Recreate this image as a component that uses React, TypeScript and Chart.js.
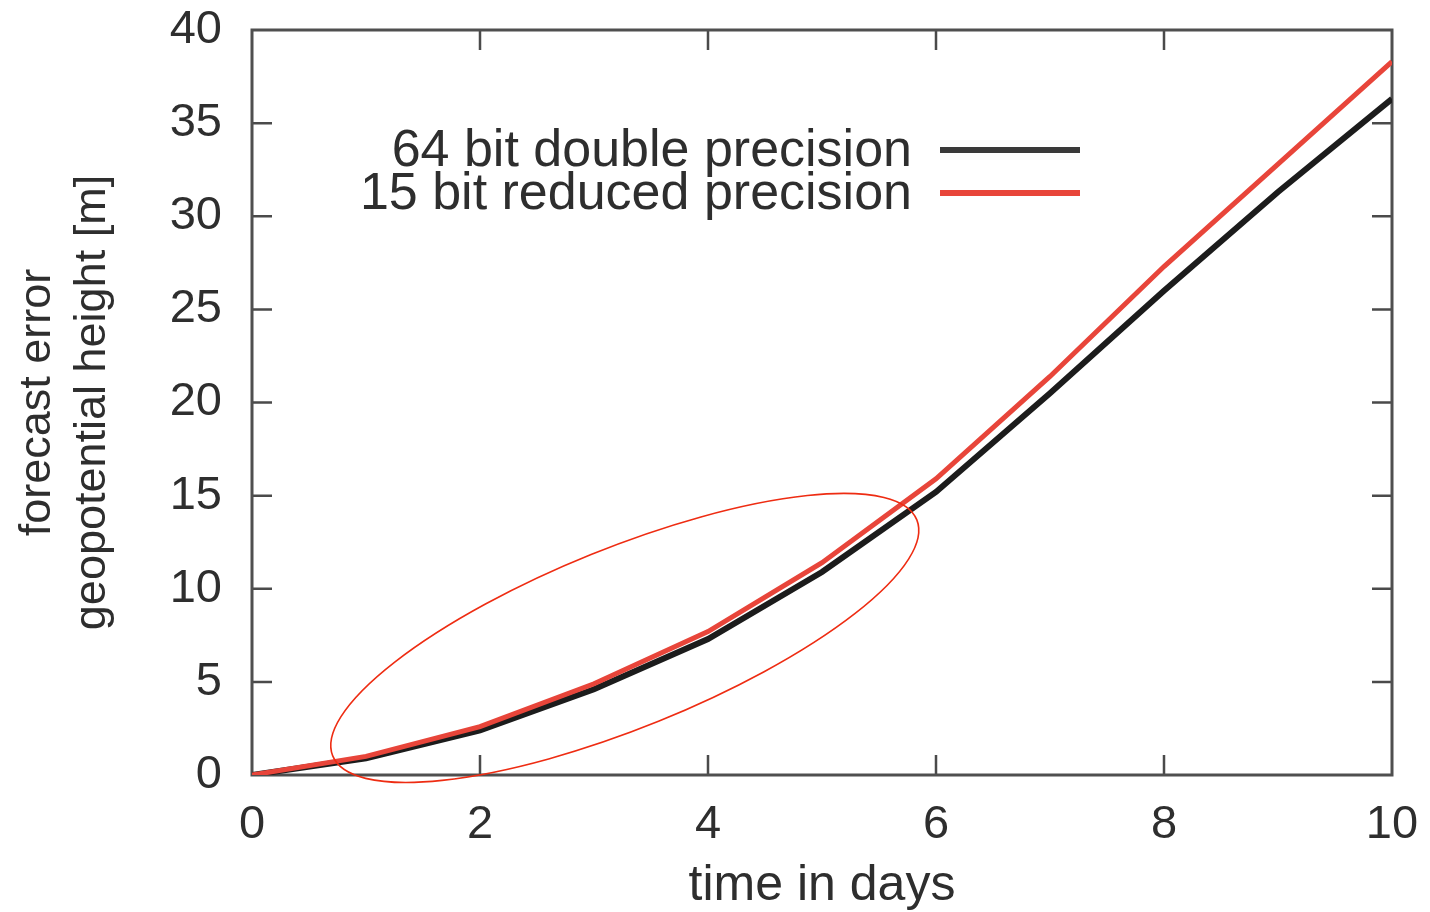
import React, { useEffect, useRef } from "react";
import { Chart, registerables } from "chart.js";

Chart.register(...registerables);

// ---- data ----
const days = [0, 1, 2, 3, 4, 5, 6, 7, 8, 9, 10];
const doublePrecision = [0, 0.9, 2.4, 4.6, 7.3, 10.9, 15.2, 20.5, 26.0, 31.3, 36.3];
const reducedPrecision = [0, 1.0, 2.6, 4.9, 7.7, 11.4, 15.9, 21.4, 27.3, 32.8, 38.3];
const seriesLabels = ["64 bit double precision", "15 bit reduced precision"];
const seriesColors = ["#1c1c1c", "#e8453a"];
const legendColors = ["#3a3a3a", "#e8453a"];
const xRange = [0, 10];
const yRange = [0, 40];
const xStep = 2;
const yStep = 5;
const xTitle = "time in days";
const yTitle = ["forecast error", "geopotential height [m]"];
// highlight ellipse: centre in data units
const highlightCenter = { x: 3.27, y: 7.36 };

const FONT = "'Liberation Sans', Arial, Helvetica, sans-serif";

const framePlugin = {
  id: "frame",
  beforeDatasetsDraw(chart: any) {
    const { ctx, chartArea, scales } = chart;
    const { left, right, top, bottom } = chartArea;
    const L = 20;
    ctx.save();
    ctx.strokeStyle = "#4a4a4a";
    ctx.lineWidth = 2.5;
    ctx.beginPath();
    scales.x.ticks.forEach((t: any) => {
      const px = scales.x.getPixelForValue(t.value);
      if (px <= left + 1 || px >= right - 1) return;
      ctx.moveTo(px, bottom);
      ctx.lineTo(px, bottom - L);
      ctx.moveTo(px, top);
      ctx.lineTo(px, top + L);
    });
    scales.y.ticks.forEach((t: any) => {
      const py = scales.y.getPixelForValue(t.value);
      if (py <= top + 1 || py >= bottom - 1) return;
      ctx.moveTo(left, py);
      ctx.lineTo(left + L, py);
      ctx.moveTo(right, py);
      ctx.lineTo(right - L, py);
    });
    ctx.stroke();
    ctx.lineWidth = 3;
    ctx.strokeStyle = "#4f4f4f";
    ctx.strokeRect(left, top, right - left, bottom - top);
    ctx.restore();
  },
};

const overlayPlugin = {
  id: "overlay",
  afterDatasetsDraw(chart: any) {
    const { ctx, scales } = chart;
    ctx.save();
    // legend (text right-aligned, sample line to the right)
    ctx.font = `52px ${FONT}`;
    ctx.textAlign = "right";
    ctx.textBaseline = "middle";
    const textRight = 912;
    const rows = [150, 193];
    chart.data.datasets.forEach((ds: any, i: number) => {
      ctx.fillStyle = "#2e2e2e";
      ctx.fillText(ds.label, textRight, rows[i] + 2);
      ctx.strokeStyle = legendColors[i];
      ctx.lineWidth = 6;
      ctx.beginPath();
      ctx.moveTo(940, rows[i]);
      ctx.lineTo(1080, rows[i]);
      ctx.stroke();
    });
    // highlight ellipse
    const cx = scales.x.getPixelForValue(highlightCenter.x);
    const cy = scales.y.getPixelForValue(highlightCenter.y);
    ctx.strokeStyle = "#ee2c12";
    ctx.lineWidth = 1.6;
    ctx.beginPath();
    ctx.ellipse(cx, cy, 315, 90, (-22 * Math.PI) / 180, 0, Math.PI * 2);
    ctx.stroke();
    ctx.restore();
  },
};

export default function App() {
  const canvasRef = useRef<HTMLCanvasElement | null>(null);

  useEffect(() => {
    if (!canvasRef.current) return;
    const tickFont = { family: FONT, size: 47 };
    const chart = new Chart(canvasRef.current, {
      type: "line",
      data: {
        labels: days,
        datasets: [
          {
            label: seriesLabels[0],
            data: days.map((d, i) => ({ x: d, y: doublePrecision[i] })),
            borderColor: seriesColors[0],
            borderWidth: 6,
            pointRadius: 0,
            tension: 0,
            order: 2,
          },
          {
            label: seriesLabels[1],
            data: days.map((d, i) => ({ x: d, y: reducedPrecision[i] })),
            borderColor: seriesColors[1],
            borderWidth: 5,
            pointRadius: 0,
            tension: 0,
            order: 1,
          },
        ],
      },
      options: {
        animation: false,
        responsive: true,
        maintainAspectRatio: false,
        layout: { padding: { left: 0, right: 38, top: 30, bottom: 0 } },
        plugins: { legend: { display: false }, tooltip: { enabled: false } },
        scales: {
          x: {
            type: "linear",
            min: xRange[0],
            max: xRange[1],
            grid: { display: false, drawTicks: false },
            border: { display: false },
            ticks: { stepSize: xStep, font: tickFont, color: "#2e2e2e", padding: 22 },
            title: {
              display: true,
              text: xTitle,
              font: { family: FONT, size: 50, lineHeight: 1 },
              color: "#2e2e2e",
              padding: { top: 0, bottom: 1 },
            },
            afterFit(scale: any) {
              scale.height = 137;
              scale.paddingLeft = 0;
              scale.paddingRight = 0;
            },
          },
          y: {
            type: "linear",
            min: yRange[0],
            max: yRange[1],
            grid: { display: false, drawTicks: false },
            border: { display: false },
            ticks: { stepSize: yStep, font: tickFont, color: "#2e2e2e", padding: 30 },
            title: {
              display: true,
              text: yTitle,
              font: { family: FONT, size: 45, lineHeight: 1.22 },
              color: "#2e2e2e",
              padding: { top: 10, bottom: 0 },
            },
            afterFit(scale: any) {
              scale.width = 252;
              scale.paddingTop = 0;
              scale.paddingBottom = 0;
            },
          },
        },
      },
      plugins: [framePlugin, overlayPlugin],
    });
    return () => chart.destroy();
  }, []);

  return (
    <div style={{ position: "fixed", left: 0, top: 0, width: 1430, height: 912, background: "#fff" }}>
      <canvas ref={canvasRef} />
    </div>
  );
}
